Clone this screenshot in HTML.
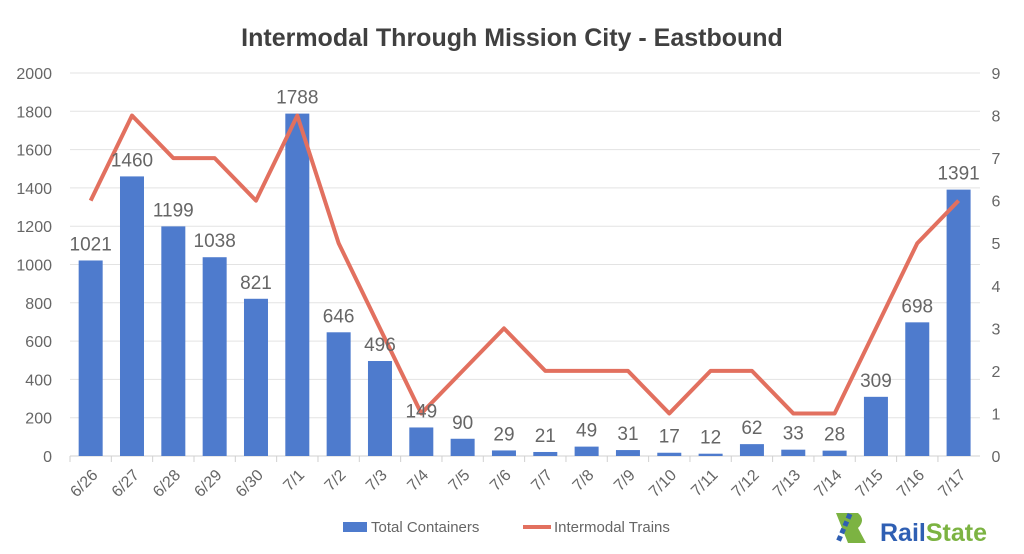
<!DOCTYPE html><html><head><style>body{margin:0;background:#fff}svg{display:block;font-family:"Liberation Sans",sans-serif}</style></head><body>
<svg id="c" width="1024" height="554" viewBox="0 0 1024 554"></svg>
<script>
const C=[1021,1460,1199,1038,821,1788,646,496,149,90,29,21,49,31,17,12,62,33,28,309,698,1391];
const T=[6,8,7,7,6,8,5,3,1,2,3,2,2,2,1,2,2,1,1,3,5,6];
const L=['6/26','6/27','6/28','6/29','6/30','7/1','7/2','7/3','7/4','7/5','7/6','7/7','7/8','7/9','7/10','7/11','7/12','7/13','7/14','7/15','7/16','7/17'];
const x0=70,w=41.33,b=456,h=383;
let s='<text x="512" y="46" text-anchor="middle" font-size="25" font-weight="bold" fill="#404040">Intermodal Through Mission City - Eastbound</text>';
for(let i=0;i<=10;i++){const y=b-i*h/10;s+=`<line x1="${x0}" x2="980" y1="${y}" y2="${y}" stroke="#e3e3e3"/><text x="52" y="${y+6}" text-anchor="end" font-size="16" fill="#666">${i*200}</text>`;}
for(let i=0;i<=9;i++){const y=b-i*h/9;s+=`<text x="996" y="${y+6}" text-anchor="middle" font-size="16" fill="#666">${i}</text>`;}
s+=`<line x1="${x0}" x2="980" y1="${b}" y2="${b}" stroke="#d0d0d0"/>`;
let p='';
C.forEach((v,i)=>{const cx=x0+w*(i+.5),y=b-v*h/2000;
s+=`<rect x="${cx-12}" y="${y}" width="24" height="${b-y}" fill="#4e7bcd"/>`;
s+=`<line x1="${x0+w*i}" x2="${x0+w*i}" y1="${b}" y2="${b+6}" stroke="#d0d0d0"/>`;
s+=`<text transform="translate(${cx+8},${b+20}) rotate(-45)" text-anchor="end" font-size="16" fill="#666">${L[i]}</text>`;
p+=(i?'L':'M')+cx+','+(b-T[i]*h/9);});
s+=`<path d="${p}" fill="none" stroke="#e2705f" stroke-width="4" stroke-linejoin="round"/>`;
C.forEach((v,i)=>{const cx=x0+w*(i+.5),y=b-v*h/2000;s+=`<text x="${cx}" y="${y-10}" text-anchor="middle" font-size="19" fill="#666">${v}</text>`;});
s+=`<rect x="343" y="522" width="24" height="10" fill="#4e7bcd"/><text x="371" y="532" font-size="15" fill="#666">Total Containers</text>`;
s+=`<line x1="523" x2="551" y1="527" y2="527" stroke="#e2705f" stroke-width="4"/><text x="554" y="532" font-size="15" fill="#666">Intermodal Trains</text>`;
s+=`<path d="M836,513 L858,513 Q866,520 858,528 L866,543 L848,543 Z" fill="#7cb342"/><path d="M850,514 L838,542" stroke="#2f5fb3" stroke-width="5" stroke-dasharray="5 3"/>`;
s+=`<text x="880" y="541" font-size="25" font-weight="bold" fill="#2f5fb3">Rail<tspan fill="#7cb342">State</tspan></text>`;
document.getElementById('c').innerHTML=s;
</script></body></html>
